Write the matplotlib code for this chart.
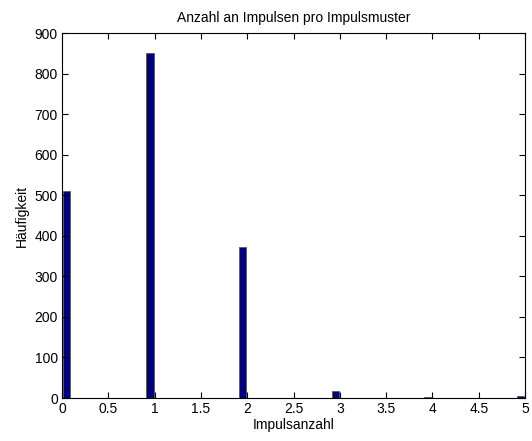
import numpy as np
import matplotlib
matplotlib.use("Agg")
import matplotlib.pyplot as plt

plt.rcParams['font.family'] = ['Liberation Sans', 'DejaVu Sans']
plt.rcParams['font.size'] = 10

# Impulse counts and how often they occurred
impulse_counts = [0, 1, 2, 3, 4, 5]
frequencies = [510, 850, 372, 18, 3, 4]

# MATLAB-style hist with 50 bins over 0..5
n_bins = 50
width = 5.0 / n_bins
centers = np.linspace(width / 2, 5 - width / 2, n_bins)
heights = np.zeros(n_bins)
for v, f in zip(impulse_counts, frequencies):
    idx = int(np.clip(np.ceil(round(v / width, 6)) - 1, 0, n_bins - 1))
    heights[idx] += f
mask = heights > 0

fig = plt.figure(figsize=(5.32, 4.41), dpi=100)
ax = fig.add_axes([0.1165, 0.0975, 0.8705, 0.8275])
ax.bar(centers[mask], heights[mask], width=width * 0.8, color=(0, 0, 0.5),
       edgecolor=(0.35, 0.35, 0.35), linewidth=0.6)

ax.set_xlim(0, 5)
ax.set_ylim(0, 900)
ax.set_xticks(np.arange(0, 5.01, 0.5))
ax.set_xticklabels(['0', '0.5', '1', '1.5', '2', '2.5', '3', '3.5', '4', '4.5', '5'])
ax.set_yticks(np.arange(0, 901, 100))
ax.tick_params(direction='in', top=True, right=True, length=4, width=0.8,
               labelsize=10, pad=3)
for s in ax.spines.values():
    s.set_linewidth(0.8)

ax.set_title("Anzahl an Impulsen pro Impulsmuster", fontsize=10, pad=8)
ax.set_xlabel("Impulsanzahl", fontsize=10, labelpad=1)
ax.set_ylabel("Häufigkeit", fontsize=10, labelpad=4)

plt.savefig("out.png", dpi=100)
